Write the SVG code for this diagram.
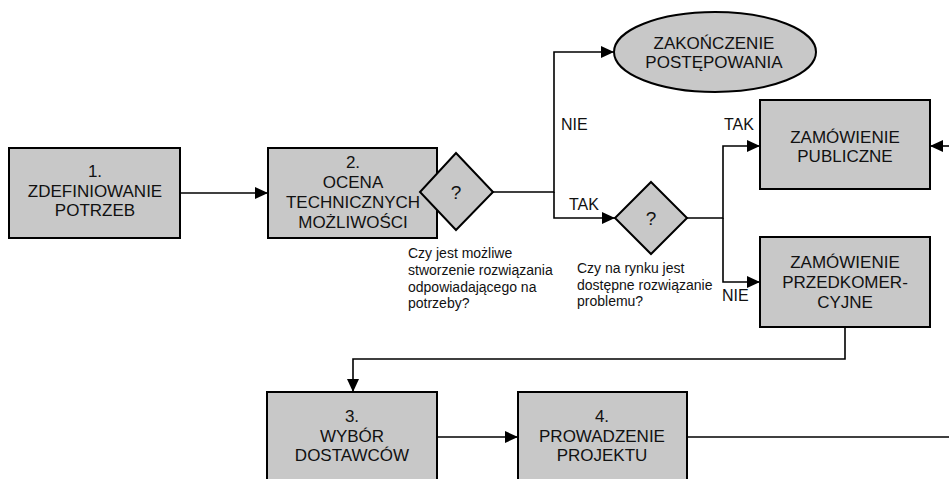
<svg xmlns="http://www.w3.org/2000/svg" width="949" height="479" viewBox="0 0 949 479">
<defs>
<marker id="arr" markerUnits="userSpaceOnUse" markerWidth="14" markerHeight="12" refX="13" refY="6" orient="auto">
<path d="M0,0 L13,6 L0,12 Z" fill="#000"/>
</marker>
<style>
.box{fill:#c8c8c8;stroke:#000;stroke-width:2}
.t{font-family:"Liberation Sans",Arial,sans-serif;font-size:17px;fill:#111;text-anchor:middle}
.s{font-family:"Liberation Sans",Arial,sans-serif;font-size:14px;fill:#111}
.lbl{font-family:"Liberation Sans",Arial,sans-serif;font-size:16px;fill:#111}
.c{fill:none;stroke:#000;stroke-width:1.6}
</style>
</defs>
<rect width="949" height="479" fill="#fff"/>
<g id="connectors">
<path class="c" d="M180,193 H268" marker-end="url(#arr)"/>
<path class="c" d="M493,192 H554 V52 H614" marker-end="url(#arr)"/>
<path class="c" d="M554,192 V218 H615" marker-end="url(#arr)"/>
<path class="c" d="M687,218 H723 V146 H760" marker-end="url(#arr)"/>
<path class="c" d="M723,218 V282 H760" marker-end="url(#arr)"/>
<path class="c" d="M949,146 H930" marker-end="url(#arr)"/>
<path class="c" d="M845,327 V359 H353 V392" marker-end="url(#arr)"/>
<path class="c" d="M437,437 H518" marker-end="url(#arr)"/>
<path class="c" d="M687,437 H949"/>
</g>
<g id="labels">
<text class="lbl" x="561" y="130">NIE</text>
<text class="lbl" x="569" y="210">TAK</text>
<text class="lbl" x="724" y="130">TAK</text>
<text class="lbl" x="722" y="301">NIE</text>
<text class="s" x="408" y="258">Czy jest możliwe</text>
<text class="s" x="408" y="275">stworzenie rozwiązania</text>
<text class="s" x="408" y="291.5">odpowiadającego na</text>
<text class="s" x="408" y="308">potrzeby?</text>
<text class="s" x="577" y="273">Czy na rynku jest</text>
<text class="s" x="577" y="289.5">dostępne rozwiązanie</text>
<text class="s" x="577" y="306">problemu?</text>
</g>
<g id="n1">
<rect class="box" x="9" y="148" width="171" height="90"/>
<text class="t" x="95" y="177">1.</text>
<text class="t" x="95" y="197">ZDEFINIOWANIE</text>
<text class="t" x="95" y="216">POTRZEB</text>
</g>
<g id="n2">
<rect class="box" x="268" y="148" width="169" height="90"/>
<text class="t" x="353" y="168">2.</text>
<text class="t" x="353" y="188">OCENA</text>
<text class="t" x="353" y="208">TECHNICZNYCH</text>
<text class="t" x="353" y="228">MOŻLIWOŚCI</text>
</g>
<g id="d1">
<polygon class="box" points="456,153 493,192 456,230 420,192"/>
<text class="t" x="456" y="199" style="font-size:19px">?</text>
</g>
<g id="end">
<ellipse class="box" cx="715" cy="52" rx="101" ry="40"/>
<text class="t" x="714" y="49">ZAKOŃCZENIE</text>
<text class="t" x="714" y="68">POSTĘPOWANIA</text>
</g>
<g id="d2">
<polygon class="box" points="651,182 687,218 651,254 615,218"/>
<text class="t" x="651" y="225" style="font-size:19px">?</text>
</g>
<g id="zp">
<rect class="box" x="760" y="100" width="170" height="89"/>
<text class="t" x="845" y="143">ZAMÓWIENIE</text>
<text class="t" x="845" y="162">PUBLICZNE</text>
</g>
<g id="zpk">
<rect class="box" x="760" y="237" width="170" height="90"/>
<text class="t" x="845" y="268">ZAMÓWIENIE</text>
<text class="t" x="845" y="288">PRZEDKOMER-</text>
<text class="t" x="845" y="308">CYJNE</text>
</g>
<g id="n3">
<rect class="box" x="267" y="392" width="170" height="100"/>
<text class="t" x="352" y="422">3.</text>
<text class="t" x="352" y="442">WYBÓR</text>
<text class="t" x="352" y="461">DOSTAWCÓW</text>
</g>
<g id="n4">
<rect class="box" x="518" y="392" width="169" height="100"/>
<text class="t" x="602" y="422">4.</text>
<text class="t" x="602" y="442">PROWADZENIE</text>
<text class="t" x="602" y="461">PROJEKTU</text>
</g>
</svg>
